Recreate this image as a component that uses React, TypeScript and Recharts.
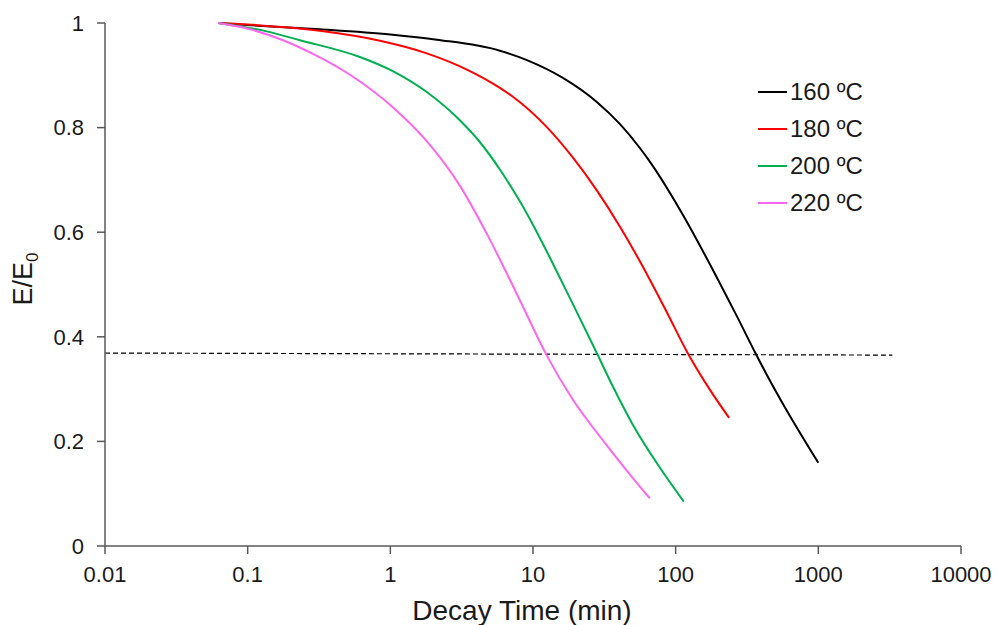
import React from 'react';
import { LineChart, Line, XAxis, YAxis, Label } from 'recharts';

// axis ticks
const timeTicks = [0.01, 0.1, 1, 10, 100, 1000, 10000];
const ratioTicks = [0, 0.2, 0.4, 0.6, 0.8, 1];

// 160 ºC
const t160 = [0.062, 0.1, 0.32, 1.0, 2.12, 5.86, 9.06, 16.2, 28.0, 40.6, 56.1, 65.9, 112, 194, 269, 359, 436, 564, 1000];
const e160 = [1.0, 0.996, 0.988, 0.978, 0.968, 0.947, 0.929, 0.895, 0.849, 0.807, 0.761, 0.735, 0.634, 0.514, 0.439, 0.371, 0.327, 0.272, 0.159];

// 180 ºC
const t180 = [0.062, 0.1, 0.32, 0.845, 1.8, 3.44, 5.86, 7.23, 12.5, 19.0, 28.0, 40.6, 58.9, 86.7, 119.7, 173.6, 237];
const e180 = [1.0, 0.997, 0.985, 0.966, 0.942, 0.911, 0.876, 0.859, 0.801, 0.743, 0.68, 0.611, 0.534, 0.447, 0.372, 0.299, 0.245];

// 200 ºC
const t200 = [0.062, 0.136, 0.233, 0.612, 1.04, 1.8, 3.07, 4.25, 5.86, 8.09, 10.6, 13.1, 19.0, 28.0, 36.3, 50.1, 77.4, 114];
const e200 = [1.0, 0.984, 0.967, 0.935, 0.908, 0.868, 0.814, 0.772, 0.72, 0.659, 0.601, 0.552, 0.463, 0.369, 0.305, 0.232, 0.15, 0.085];

// 220 ºC
const t220 = [0.062, 0.104, 0.177, 0.306, 0.521, 1.04, 1.8, 3.07, 4.83, 8.09, 12.5, 19.0, 33.0, 50.1, 65.9];
const e220 = [1.0, 0.988, 0.967, 0.937, 0.901, 0.839, 0.774, 0.689, 0.593, 0.47, 0.364, 0.28, 0.192, 0.13, 0.091];

// dashed 1/e reference
const tRef = [0.01, 3300];
const eRef = [0.369, 0.365];

const toPoints = (t: number[], e: number[]) => t.map((x, i) => ({ t: x, e: e[i] }));

const series = [
  { name: '160 ºC', color: '#000000', data: toPoints(t160, e160) },
  { name: '180 ºC', color: '#ff0000', data: toPoints(t180, e180) },
  { name: '200 ºC', color: '#00b050', data: toPoints(t200, e200) },
  { name: '220 ºC', color: '#ff66f0', data: toPoints(t220, e220) },
];

const FONT = '"Liberation Sans", Arial, sans-serif';
const AXIS = '#595959';
const TEXT = '#1a1a1a';

// legend drawn as an overlay so it does not push the plot area around
const ChartLegend = () => (
  <div style={{ position: 'absolute', left: 758, top: 74, fontFamily: FONT, fontSize: 24, color: TEXT }}>
    {series.map((s) => (
      <div key={s.name} style={{ display: 'flex', alignItems: 'center', height: 36.8 }}>
        <span style={{ display: 'inline-block', width: 29, height: 2, background: s.color, marginRight: 3 }} />
        <span>{s.name}</span>
      </div>
    ))}
  </div>
);

export default function App() {
  return (
    <div style={{ position: 'absolute', left: 0, top: 0, width: 997, height: 625, background: '#fff', fontFamily: FONT }}>
      <LineChart width={997} height={625} margin={{ top: 23, right: 36, left: 0, bottom: 0 }}>
        <XAxis
          type="number"
          dataKey="t"
          scale="log"
          domain={[0.01, 10000]}
          ticks={timeTicks}
          allowDataOverflow
          height={79}
          tickSize={8}
          tickMargin={12}
          tickFormatter={(v: number) => String(v)}
          stroke={AXIS}
          strokeWidth={1.5}
          tick={{ fill: TEXT, fontSize: 22, fontFamily: FONT }}
        >
          <Label
            content={() => (
              <text x={522} y={620} textAnchor="middle" fill={TEXT} fontSize={28} fontFamily={FONT}>
                Decay Time (min)
              </text>
            )}
          />
        </XAxis>
        <YAxis
          type="number"
          dataKey="e"
          domain={[0, 1]}
          ticks={ratioTicks}
          width={105}
          tickSize={8}
          tickMargin={13}
          tickFormatter={(v: number) => String(v)}
          stroke={AXIS}
          strokeWidth={1.5}
          tick={{ fill: TEXT, fontSize: 22, fontFamily: FONT }}
        >
          <Label
            content={() => (
              <text
                x={32}
                y={279}
                textAnchor="middle"
                fill={TEXT}
                fontSize={27}
                fontFamily={FONT}
                transform="rotate(-90, 32, 279)"
              >
                E/E<tspan fontSize={17} dy={6}>0</tspan>
              </text>
            )}
          />
        </YAxis>
        <Line
          data={toPoints(tRef, eRef)}
          dataKey="e"
          stroke="#000000"
          strokeWidth={1.2}
          strokeDasharray="5 3"
          dot={false}
          legendType="none"
          isAnimationActive={false}
        />
        {series.map((s) => (
          <Line
            key={s.name}
            data={s.data}
            dataKey="e"
            name={s.name}
            type="monotone"
            stroke={s.color}
            strokeWidth={2}
            dot={false}
            isAnimationActive={false}
          />
        ))}
      </LineChart>
      <ChartLegend />
    </div>
  );
}
